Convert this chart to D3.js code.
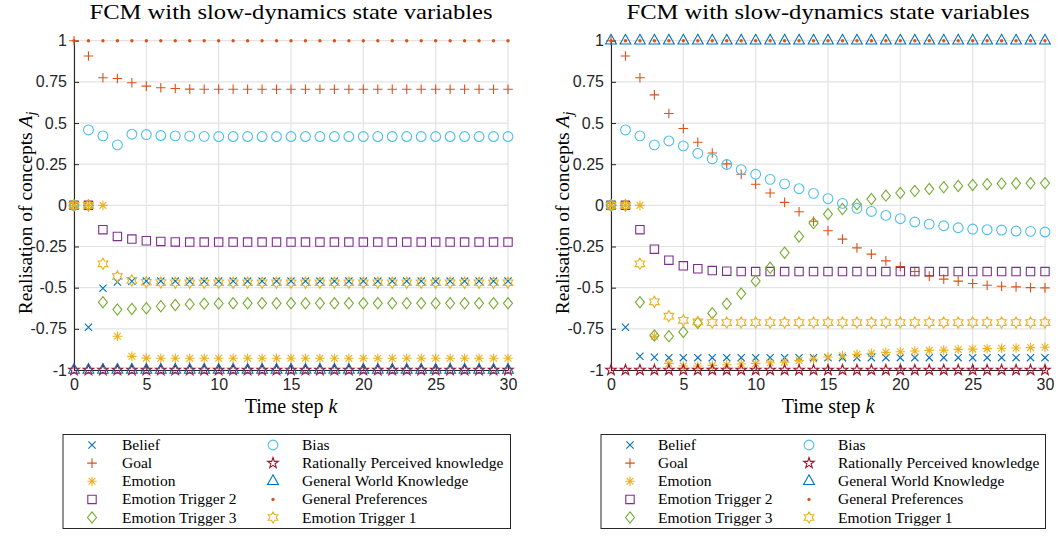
<!DOCTYPE html>
<html>
<head>
<meta charset="utf-8">
<script src="https://cdn.jsdelivr.net/npm/d3@7"></script>
<style>
  body { margin: 0; background: #fff; }
</style>
</head>
<body>
<svg id="chart" width="1057" height="536"></svg>
<script>
// Time steps k = 0..30
var steps = [0, 1, 2, 3, 4, 5, 6, 7, 8, 9, 10, 11, 12, 13, 14, 15, 16, 17, 18, 19, 20,
             21, 22, 23, 24, 25, 26, 27, 28, 29, 30];

// Concepts (legend order, also plotting order)
var concepts = ["Belief", "Goal", "Emotion", "Emotion Trigger 2", "Emotion Trigger 3",
                "Bias", "Rationally Perceived knowledge", "General World Knowledge",
                "General Preferences", "Emotion Trigger 1"];
var markers = ["x", "+", "*", "s", "d", "o", "p", "^", ".", "h"];
var colors = ["#0072BD", "#D95319", "#EDB120", "#7E2F8E", "#77AC30",
              "#4DBEEE", "#A2142F", "#0072BD", "#D95319", "#EDB120"];

var yTicks = [-1, -0.75, -0.5, -0.25, 0, 0.25, 0.5, 0.75, 1];
var yTickLabels = ["-1", "-0.75", "-0.5", "-0.25", "0", "0.25", "0.5", "0.75", "1"];
var xTicks = [0, 5, 10, 15, 20, 25, 30];

// ---- left panel values ----
var leftBelief = [0, -0.74, -0.503, -0.466, -0.461, -0.46, -0.46, -0.46, -0.46, -0.46, -0.46,
  -0.46, -0.46, -0.46, -0.46, -0.46, -0.46, -0.46, -0.46, -0.46, -0.46,
  -0.46, -0.46, -0.46, -0.46, -0.46, -0.46, -0.46, -0.46, -0.46, -0.46];
var leftGoal = [1, 0.907, 0.775, 0.77, 0.745, 0.724, 0.714, 0.71, 0.706, 0.705, 0.705,
  0.705, 0.705, 0.705, 0.705, 0.705, 0.705, 0.705, 0.705, 0.705, 0.705,
  0.705, 0.705, 0.705, 0.705, 0.705, 0.705, 0.705, 0.705, 0.705, 0.705];
var leftEmotion = [0, 0, 0, -0.795, -0.917, -0.928, -0.929, -0.929, -0.929, -0.929, -0.929,
  -0.929, -0.929, -0.929, -0.929, -0.929, -0.929, -0.929, -0.929, -0.929, -0.929,
  -0.929, -0.929, -0.929, -0.929, -0.929, -0.929, -0.929, -0.929, -0.929, -0.929];
var leftTrigger2 = [0, 0, -0.148, -0.189, -0.205, -0.215, -0.219, -0.222, -0.223, -0.223, -0.223,
  -0.223, -0.223, -0.223, -0.223, -0.223, -0.223, -0.223, -0.223, -0.223, -0.223,
  -0.223, -0.223, -0.223, -0.223, -0.223, -0.223, -0.223, -0.223, -0.223, -0.223];
var leftTrigger3 = [0, 0, -0.588, -0.633, -0.629, -0.625, -0.613, -0.605, -0.6, -0.597, -0.596,
  -0.595, -0.595, -0.595, -0.595, -0.595, -0.595, -0.595, -0.595, -0.595, -0.595,
  -0.595, -0.595, -0.595, -0.595, -0.595, -0.595, -0.595, -0.595, -0.595, -0.595];
var leftBias = [0, 0.458, 0.422, 0.367, 0.432, 0.43, 0.424, 0.422, 0.42, 0.419, 0.418,
  0.418, 0.418, 0.418, 0.418, 0.418, 0.418, 0.418, 0.418, 0.418, 0.418,
  0.418, 0.418, 0.418, 0.418, 0.418, 0.418, 0.418, 0.418, 0.418, 0.418];
var leftRational = [-1, -1, -1, -1, -1, -1, -1, -1, -1, -1, -1,
  -1, -1, -1, -1, -1, -1, -1, -1, -1, -1,
  -1, -1, -1, -1, -1, -1, -1, -1, -1, -1];
var leftWorld = [-1, -1, -1, -1, -1, -1, -1, -1, -1, -1, -1,
  -1, -1, -1, -1, -1, -1, -1, -1, -1, -1,
  -1, -1, -1, -1, -1, -1, -1, -1, -1, -1];
var leftPreferences = [1, 1, 1, 1, 1, 1, 1, 1, 1, 1, 1,
  1, 1, 1, 1, 1, 1, 1, 1, 1, 1,
  1, 1, 1, 1, 1, 1, 1, 1, 1, 1];
var leftTrigger1 = [0, 0, -0.355, -0.432, -0.456, -0.467, -0.469, -0.47, -0.47, -0.47, -0.47,
  -0.47, -0.47, -0.47, -0.47, -0.47, -0.47, -0.47, -0.47, -0.47, -0.47,
  -0.47, -0.47, -0.47, -0.47, -0.47, -0.47, -0.47, -0.47, -0.47, -0.47];

// ---- right panel values ----
var rightBelief = [0, -0.74, -0.917, -0.923, -0.925, -0.925, -0.925, -0.925, -0.925, -0.925, -0.925,
  -0.925, -0.925, -0.925, -0.925, -0.925, -0.925, -0.925, -0.925, -0.925, -0.925,
  -0.925, -0.925, -0.925, -0.925, -0.925, -0.925, -0.925, -0.925, -0.925, -0.925];
var rightGoal = [1, 0.907, 0.775, 0.671, 0.558, 0.467, 0.383, 0.318, 0.252, 0.189, 0.128,
  0.075, 0.018, -0.039, -0.097, -0.154, -0.205, -0.258, -0.296, -0.337, -0.371,
  -0.402, -0.43, -0.448, -0.46, -0.475, -0.485, -0.491, -0.495, -0.5, -0.501];
var rightEmotion = [0, 0, 0, -0.795, -0.96, -0.976, -0.976, -0.972, -0.968, -0.964, -0.96,
  -0.956, -0.952, -0.943, -0.933, -0.921, -0.913, -0.905, -0.899, -0.893, -0.889,
  -0.885, -0.881, -0.879, -0.875, -0.873, -0.87, -0.868, -0.866, -0.864, -0.862];
var rightTrigger2 = [0, 0, -0.148, -0.266, -0.333, -0.367, -0.385, -0.396, -0.4, -0.402, -0.402,
  -0.402, -0.402, -0.402, -0.402, -0.402, -0.402, -0.402, -0.402, -0.402, -0.402,
  -0.402, -0.402, -0.402, -0.402, -0.402, -0.402, -0.402, -0.402, -0.402, -0.402];
var rightTrigger3 = [0, 0, -0.588, -0.79, -0.795, -0.769, -0.714, -0.655, -0.598, -0.536, -0.46,
  -0.379, -0.288, -0.189, -0.108, -0.053, -0.022, 0.006, 0.038, 0.059, 0.075,
  0.087, 0.099, 0.11, 0.118, 0.124, 0.128, 0.132, 0.134, 0.134, 0.135];
var rightBias = [0, 0.458, 0.422, 0.367, 0.391, 0.361, 0.316, 0.282, 0.248, 0.217, 0.189,
  0.158, 0.13, 0.101, 0.073, 0.041, 0.012, -0.018, -0.037, -0.061, -0.081,
  -0.101, -0.114, -0.124, -0.136, -0.144, -0.148, -0.15, -0.156, -0.158, -0.162];
var rightRational = [-1, -1, -1, -1, -1, -1, -1, -1, -1, -1, -1,
  -1, -1, -1, -1, -1, -1, -1, -1, -1, -1,
  -1, -1, -1, -1, -1, -1, -1, -1, -1, -1];
var rightWorld = [1, 1, 1, 1, 1, 1, 1, 1, 1, 1, 1,
  1, 1, 1, 1, 1, 1, 1, 1, 1, 1,
  1, 1, 1, 1, 1, 1, 1, 1, 1, 1];
var rightPreferences = [1, 1, 1, 1, 1, 1, 1, 1, 1, 1, 1,
  1, 1, 1, 1, 1, 1, 1, 1, 1, 1,
  1, 1, 1, 1, 1, 1, 1, 1, 1, 1];
var rightTrigger1 = [0, 0, -0.355, -0.586, -0.673, -0.698, -0.708, -0.712, -0.712, -0.712, -0.712,
  -0.712, -0.712, -0.712, -0.712, -0.712, -0.712, -0.712, -0.712, -0.712, -0.712,
  -0.712, -0.712, -0.712, -0.712, -0.712, -0.712, -0.712, -0.712, -0.712, -0.712];

var leftSeries = [leftBelief, leftGoal, leftEmotion, leftTrigger2, leftTrigger3,
                  leftBias, leftRational, leftWorld, leftPreferences, leftTrigger1];
var rightSeries = [rightBelief, rightGoal, rightEmotion, rightTrigger2, rightTrigger3,
                   rightBias, rightRational, rightWorld, rightPreferences, rightTrigger1];

var titleText = "FCM with slow-dynamics state variables";

var svg = d3.select("#chart");
var axisColor = "#262626";
var gridColor = "#e3e3e3";
var serif = "'Liberation Serif', 'Times New Roman', serif";
var sans = "'Liberation Sans', Arial, Helvetica, sans-serif";

// Star shaped polygon (used for pentagram / hexagram markers)
function starPath(n, outer, inner) {
    var pts = [];
    for (var i = 0; i < n * 2; i++) {
        var r = i % 2 === 0 ? outer : inner;
        var a = -Math.PI / 2 + i * Math.PI / n;
        pts.push([r * Math.cos(a), r * Math.sin(a)]);
    }
    return "M" + pts.map(function (p) { return p[0].toFixed(2) + "," + p[1].toFixed(2); }).join("L") + "Z";
}

// MATLAB-like marker shapes
function markerPath(type) {
    switch (type) {
        case "x": return "M-3.6,-3.6L3.6,3.6M-3.6,3.6L3.6,-3.6";
        case "+": return "M-4.8,0H4.8M0,-4.8V4.8";
        case "*": return "M-4.8,0H4.8M0,-4.8V4.8M-3.4,-3.4L3.4,3.4M-3.4,3.4L3.4,-3.4";
        case "s": return "M-4.2,-4.2H4.2V4.2H-4.2Z";
        case "d": return "M0,-5.6L4.5,0L0,5.6L-4.5,0Z";
        case "o": return d3.arc()({innerRadius: 0, outerRadius: 4.9, startAngle: 0, endAngle: 2 * Math.PI});
        case "^": return "M0,-6.4L5.4,3.3L-5.4,3.3Z";
        case "p": return starPath(5, 5.6, 2.2);
        case "h": return starPath(6, 5.6, 3.2);
        case ".": return d3.arc()({innerRadius: 0, outerRadius: 1.7, startAngle: 0, endAngle: 2 * Math.PI});
    }
}

function drawMarker(g, type, color) {
    var p = g.append("path").attr("d", markerPath(type));
    if (type === "." ) {
        p.attr("fill", color).attr("stroke", "none");
    } else {
        p.attr("fill", "none").attr("stroke", color).attr("stroke-width", 1.1);
    }
    return p;
}

function drawPanel(x0, x1, series) {
    var x = d3.scaleLinear().domain([0, 30]).range([x0, x1]);
    var y = d3.scaleLinear().domain([-1, 1]).range([370, 40.7]);
    var g = svg.append("g");

    // grid
    g.append("g").selectAll("line").data(xTicks).enter().append("line")
        .attr("x1", function (d) { return x(d); }).attr("x2", function (d) { return x(d); })
        .attr("y1", y(-1)).attr("y2", y(1))
        .attr("stroke", gridColor).attr("stroke-width", 1.2);
    g.append("g").selectAll("line").data(yTicks).enter().append("line")
        .attr("x1", x(0)).attr("x2", x(30))
        .attr("y1", function (d) { return y(d); }).attr("y2", function (d) { return y(d); })
        .attr("stroke", gridColor).attr("stroke-width", 1.2);

    // axes (inward ticks like MATLAB)
    var yAxis = d3.axisLeft(y).tickValues(yTicks).tickSizeInner(-5).tickSizeOuter(0)
        .tickPadding(7).tickFormat(function (d, i) { return yTickLabels[i]; });
    var ya = g.append("g").attr("transform", "translate(" + x0 + ",0)").call(yAxis);
    var xAxis = d3.axisBottom(x).tickValues(xTicks).tickSizeInner(-5).tickSizeOuter(0).tickPadding(9);
    var xa = g.append("g").attr("transform", "translate(0," + y(-1) + ")").call(xAxis);
    [ya, xa].forEach(function (a) {
        a.select(".domain").attr("stroke", axisColor).attr("stroke-width", 1.1);
        a.selectAll(".tick line").attr("stroke", axisColor).attr("stroke-width", 1);
        a.selectAll(".tick text").attr("fill", axisColor)
            .style("font-family", sans).style("font-size", "16px");
    });

    // markers
    series.forEach(function (vals, s) {
        var sg = g.append("g");
        steps.forEach(function (k, i) {
            var mg = sg.append("g").attr("transform", "translate(" + x(k) + "," + y(vals[i]) + ")");
            drawMarker(mg, markers[s], colors[s]);
        });
    });

    var cx = (x0 + x1) / 2;
    // title
    g.append("text").attr("x", cx).attr("y", 19).attr("text-anchor", "middle")
        .attr("textLength", 403).attr("lengthAdjust", "spacingAndGlyphs")
        .style("font-family", serif).style("font-size", "21px").attr("fill", "#000")
        .text(titleText);

    // x label
    var xl = g.append("text").attr("x", cx).attr("y", 413).attr("text-anchor", "middle")
        .style("font-family", serif).style("font-size", "20px").attr("fill", "#000");
    xl.append("tspan").text("Time step ");
    xl.append("tspan").style("font-style", "italic").text("k");

    // y label
    var yl = g.append("text").attr("transform", "translate(" + (x0 - 42) + ",213) rotate(-90)")
        .attr("text-anchor", "middle")
        .style("font-family", serif).style("font-size", "19.5px").attr("fill", "#000");
    yl.append("tspan").text("Realisation of concepts ");
    yl.append("tspan").style("font-style", "italic").text("A");
    yl.append("tspan").style("font-style", "italic").style("font-size", "14px")
        .attr("dy", 4).text("j");
}

function drawLegend(bx, bw, markerX, textX, col2MarkerX, col2TextX) {
    var g = svg.append("g");
    g.append("rect").attr("x", bx).attr("y", 434.5).attr("width", bw).attr("height", 94)
        .attr("fill", "#fff").attr("stroke", axisColor).attr("stroke-width", 1);
    var rowY = d3.scalePoint().domain([0, 1, 2, 3, 4]).range([445, 517.5]);
    concepts.forEach(function (name, i) {
        var col = i < 5 ? 0 : 1;
        var row = i % 5;
        var mx = col === 0 ? markerX : col2MarkerX;
        var tx = col === 0 ? textX : col2TextX;
        var mg = g.append("g").attr("transform", "translate(" + mx + "," + rowY(row) + ")");
        drawMarker(mg, markers[i], colors[i]);
        g.append("text").attr("x", tx).attr("y", rowY(row) + 5)
            .style("font-family", serif).style("font-size", "15.5px").attr("fill", "#000")
            .text(name);
    });
}

drawPanel(74, 508, leftSeries);
drawPanel(611, 1045, rightSeries);
drawLegend(63, 447.5, 92, 122, 273, 302);
drawLegend(601, 444.5, 630, 658, 809, 838);
</script>
</body>
</html>
